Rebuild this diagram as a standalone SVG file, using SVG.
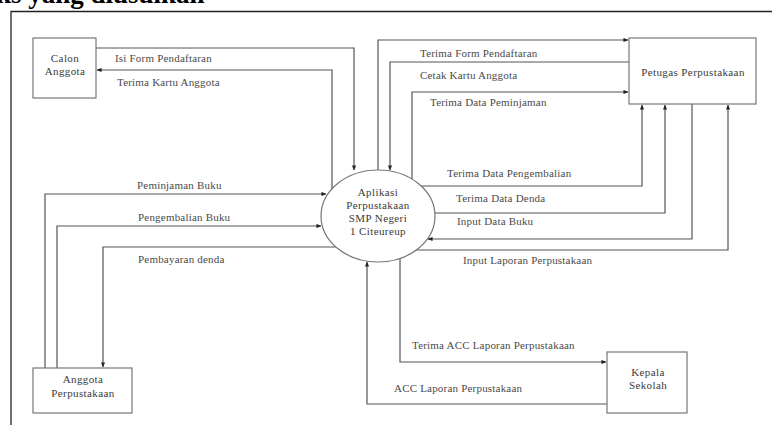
<svg xmlns="http://www.w3.org/2000/svg" width="772" height="425" viewBox="0 0 772 425">
<defs>
<marker id="ah" viewBox="0 0 6 6" refX="5.5" refY="3" markerWidth="5" markerHeight="5" markerUnits="userSpaceOnUse" orient="auto">
<path d="M0,0.5 L6,3 L0,5.5 Z" fill="#222"/>
</marker>
<style>
.node{fill:#fff;stroke:#777;stroke-width:1.2}
.nt{font-family:"Liberation Serif",serif;font-size:11px;letter-spacing:0.4px;fill:#3a3a3a;text-anchor:middle}
.ln{fill:none;stroke:#555;stroke-width:1.2;marker-end:url(#ah)}
.lb{font-family:"Liberation Serif",serif;font-size:11px;letter-spacing:0.2px;fill:#4a4a4a}
</style>
</defs>
<rect width="772" height="425" fill="#fff"/>
<text x="-4" y="3" font-family="Liberation Serif, serif" font-size="27" font-weight="bold" fill="#000">ks yang diusulkan</text>
<path d="M11,425 V11.5 H772" fill="none" stroke="#222" stroke-width="1.3"/>

<g id="connectors">
<path class="ln" d="M96,48 H354 V170"/>
<path class="ln" d="M332,189 V70 H97"/>
<path class="ln" d="M378,170 V40 H628"/>
<path class="ln" d="M629,62 H390 V170"/>
<path class="ln" d="M412,179 V92 H628"/>
<path class="ln" d="M420,186 H642 V105"/>
<path class="ln" d="M435,213 H665 V105"/>
<path class="ln" d="M692,104 V239 H428"/>
<path class="ln" d="M416,250 H728 V105"/>
<path class="ln" d="M45,368 V194 H326"/>
<path class="ln" d="M57,368 V226 H321"/>
<path class="ln" d="M336,247 H103 V367"/>
<path class="ln" d="M400,258 V362 H606"/>
<path class="ln" d="M607,404 H367 V262"/>
<text class="lb" x="115" y="62">Isi Form Pendaftaran</text>
<text class="lb" x="117" y="86">Terima Kartu Anggota</text>
<text class="lb" x="420" y="57">Terima Form Pendaftaran</text>
<text class="lb" x="420" y="79">Cetak Kartu  Anggota</text>
<text class="lb" x="430" y="106">Terima Data Peminjaman</text>
<text class="lb" x="447" y="177">Terima Data Pengembalian</text>
<text class="lb" x="456" y="202">Terima Data Denda</text>
<text class="lb" x="457" y="225">Input Data Buku</text>
<text class="lb" x="463" y="264">Input Laporan Perpustakaan</text>
<text class="lb" x="137" y="189">Peminjaman Buku</text>
<text class="lb" x="138" y="221">Pengembalian Buku</text>
<text class="lb" x="138" y="263">Pembayaran denda</text>
<text class="lb" x="412" y="349">Terima ACC Laporan Perpustakaan</text>
<text class="lb" x="394" y="392">ACC Laporan Perpustakaan</text>
</g>

<g id="calon-anggota">
<rect class="node" x="33" y="38" width="63" height="60"/>
<text class="nt" x="65" y="62">Calon</text>
<text class="nt" x="65" y="75">Anggota</text>
</g>

<g id="petugas-perpustakaan">
<rect class="node" x="629" y="38" width="127" height="66"/>
<text class="nt" x="693" y="76">Petugas Perpustakaan</text>
</g>

<g id="aplikasi">
<ellipse class="node" cx="378" cy="216" rx="57" ry="46"/>
<text class="nt" x="378" y="196">Aplikasi</text>
<text class="nt" x="378" y="209">Perpustakaan</text>
<text class="nt" x="378" y="222">SMP Negeri</text>
<text class="nt" x="378" y="235">1 Citeureup</text>
</g>

<g id="anggota-perpustakaan">
<rect class="node" x="33" y="368" width="99" height="45"/>
<text class="nt" x="83" y="383">Anggota</text>
<text class="nt" x="83" y="397">Perpustakaan</text>
</g>

<g id="kepala-sekolah">
<rect class="node" x="607" y="352" width="80" height="61"/>
<text class="nt" x="648" y="376">Kepala</text>
<text class="nt" x="648" y="389">Sekolah</text>
</g>
</svg>
